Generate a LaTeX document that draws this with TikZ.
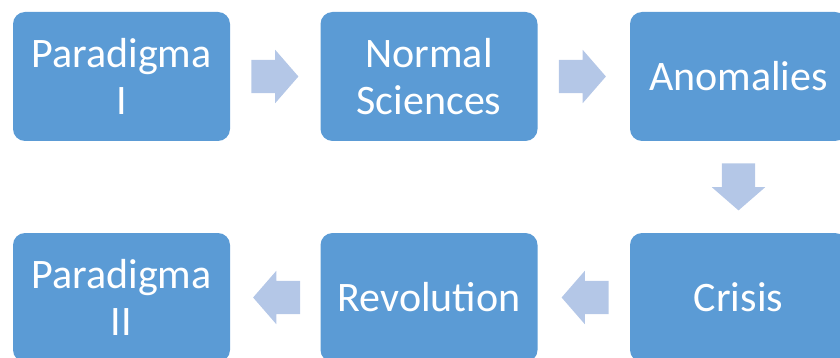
\documentclass[tikz,border=0pt]{standalone}
\usepackage{fontspec}
\setmainfont{Carlito}
\usetikzlibrary{shapes.arrows,calc}
\definecolor{boxblue}{RGB}{91,155,213}
\definecolor{arrowblue}{RGB}{180,199,231}
\tikzset{
  stagebox/.style={rectangle, rounded corners=12pt, fill=boxblue, draw=none,
    minimum width=217pt, minimum height=129pt, inner sep=0pt,
    text=white, align=center, font=\fontsize{42pt}{47pt}\selectfont},
  blockarrow/.style={single arrow, fill=arrowblue, draw=none, anchor=tail,
    inner xsep=0pt, inner ysep=16.5pt, minimum height=47pt,
    single arrow head extend=10pt, single arrow tip angle=98,
    single arrow head indent=0pt}
}
\begin{document}
\begin{tikzpicture}[x=1pt,y=-1pt]
\useasboundingbox (0,0) rectangle (840,358);
\clip (0,0) rectangle (840,358);
\node[stagebox] (p1) at (121.5,76.5) {Paradigma\\I};
\node[stagebox] (ns) at (429,76.5) {Normal\\Sciences};
\node[stagebox] (an) at (738.5,76.5) {Anomalies};
\node[stagebox] (cr) at (738.5,297.5) {Crisis};
\node[stagebox] (rv) at (429,297.5) {Revolution};
\node[stagebox] (p2) at (121.5,297.5) {Paradigma\\II};
\node[blockarrow] (a1) at ($(p1.east)!21pt!(ns.west)$) {};
\node[blockarrow] (a2) at ($(ns.east)!21pt!(an.west)$) {};
\node[blockarrow, rotate=-90] (a3) at ($(an.south)!22pt!(cr.north)$) {};
\node[blockarrow, rotate=180] (a4) at ($(cr.west)!21pt!(rv.east)$) {};
\node[blockarrow, rotate=180] (a5) at ($(rv.west)!20pt!(p2.east)$) {};
\end{tikzpicture}
\end{document}
